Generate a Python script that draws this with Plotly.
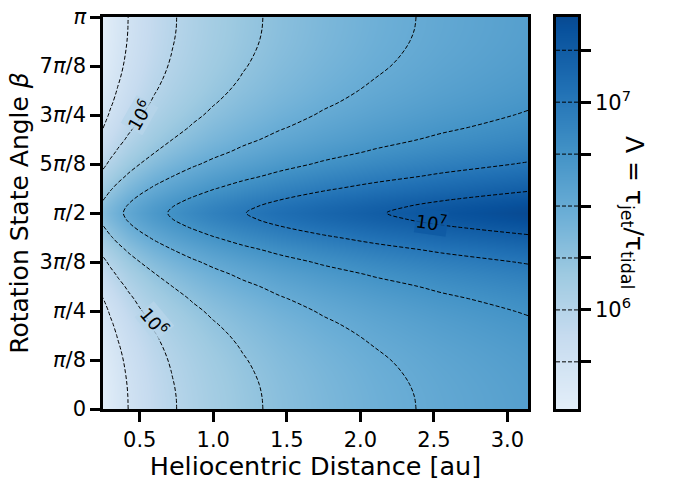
import numpy as np
import plotly.graph_objects as go

# ---------------- data ----------------
# heliocentric distance grid [au]
distance_au = [0.25, 0.30, 0.35, 0.42, 0.50, 0.60, 0.72, 0.86, 1.00, 1.20, 1.45, 1.75, 2.10, 2.55, 3.14]
# rotation state angle grid, in units of pi
beta_over_pi = [0.0, 0.03125, 0.0625, 0.09375, 0.125, 0.15625, 0.1875, 0.21875, 0.25, 0.28125,
                0.3125, 0.34375, 0.375, 0.40625, 0.4375, 0.46875, 0.484375, 0.5, 0.515625,
                0.53125, 0.5625, 0.59375, 0.625, 0.65625, 0.6875, 0.71875, 0.75, 0.78125,
                0.8125, 0.84375, 0.875, 0.90625, 0.9375, 0.96875, 1.0]
# log10 of Lambda = tau_jet / tau_tidal  (rows: beta, columns: distance)
log10_lambda = [
    [5.523, 5.603, 5.670, 5.749, 5.824, 5.904, 5.983, 6.060, 6.126, 6.205, 6.287, 6.369, 6.448, 6.532, 6.622],
    [5.526, 5.605, 5.672, 5.751, 5.827, 5.906, 5.985, 6.062, 6.128, 6.207, 6.289, 6.371, 6.450, 6.534, 6.624],
    [5.533, 5.612, 5.679, 5.758, 5.833, 5.913, 5.992, 6.069, 6.134, 6.213, 6.295, 6.377, 6.456, 6.540, 6.630],
    [5.545, 5.624, 5.691, 5.770, 5.845, 5.924, 6.003, 6.080, 6.145, 6.224, 6.306, 6.387, 6.466, 6.550, 6.640],
    [5.563, 5.641, 5.708, 5.786, 5.862, 5.940, 6.019, 6.095, 6.160, 6.239, 6.321, 6.402, 6.480, 6.564, 6.654],
    [5.586, 5.664, 5.730, 5.809, 5.883, 5.962, 6.040, 6.116, 6.181, 6.259, 6.341, 6.421, 6.500, 6.583, 6.673],
    [5.615, 5.693, 5.759, 5.837, 5.911, 5.989, 6.067, 6.143, 6.207, 6.285, 6.366, 6.447, 6.525, 6.608, 6.697],
    [5.650, 5.728, 5.794, 5.871, 5.945, 6.023, 6.100, 6.176, 6.240, 6.318, 6.398, 6.478, 6.556, 6.638, 6.727],
    [5.694, 5.771, 5.836, 5.913, 5.987, 6.064, 6.141, 6.216, 6.280, 6.357, 6.437, 6.517, 6.594, 6.676, 6.764],
    [5.745, 5.822, 5.887, 5.963, 6.037, 6.114, 6.190, 6.265, 6.329, 6.405, 6.485, 6.564, 6.641, 6.722, 6.810],
    [5.806, 5.882, 5.947, 6.023, 6.096, 6.173, 6.249, 6.324, 6.387, 6.463, 6.542, 6.621, 6.697, 6.778, 6.865],
    [5.877, 5.953, 6.018, 6.094, 6.167, 6.243, 6.319, 6.393, 6.456, 6.532, 6.611, 6.690, 6.766, 6.846, 6.933],
    [5.959, 6.036, 6.100, 6.176, 6.249, 6.325, 6.401, 6.476, 6.538, 6.614, 6.693, 6.772, 6.847, 6.928, 7.014],
    [6.053, 6.129, 6.194, 6.271, 6.344, 6.420, 6.497, 6.571, 6.634, 6.710, 6.789, 6.868, 6.944, 7.025, 7.111],
    [6.154, 6.231, 6.297, 6.374, 6.448, 6.525, 6.602, 6.677, 6.741, 6.818, 6.897, 6.977, 7.053, 7.135, 7.223],
    [6.252, 6.330, 6.396, 6.475, 6.550, 6.628, 6.706, 6.782, 6.847, 6.925, 7.006, 7.087, 7.165, 7.248, 7.337],
    [6.290, 6.369, 6.436, 6.515, 6.590, 6.669, 6.748, 6.825, 6.890, 6.969, 7.050, 7.132, 7.210, 7.295, 7.384],
    [6.311, 6.390, 6.457, 6.536, 6.612, 6.691, 6.770, 6.848, 6.913, 6.992, 7.074, 7.156, 7.235, 7.320, 7.410],
    [6.290, 6.369, 6.436, 6.515, 6.590, 6.669, 6.748, 6.825, 6.890, 6.969, 7.050, 7.132, 7.210, 7.295, 7.384],
    [6.252, 6.330, 6.396, 6.475, 6.550, 6.628, 6.706, 6.782, 6.847, 6.925, 7.006, 7.087, 7.165, 7.248, 7.337],
    [6.154, 6.231, 6.297, 6.374, 6.448, 6.525, 6.602, 6.677, 6.741, 6.818, 6.897, 6.977, 7.053, 7.135, 7.223],
    [6.053, 6.129, 6.194, 6.271, 6.344, 6.420, 6.497, 6.571, 6.634, 6.710, 6.789, 6.868, 6.944, 7.025, 7.111],
    [5.959, 6.036, 6.100, 6.176, 6.249, 6.325, 6.401, 6.476, 6.538, 6.614, 6.693, 6.772, 6.847, 6.928, 7.014],
    [5.877, 5.953, 6.018, 6.094, 6.167, 6.243, 6.319, 6.393, 6.456, 6.532, 6.611, 6.690, 6.766, 6.846, 6.933],
    [5.806, 5.882, 5.947, 6.023, 6.096, 6.173, 6.249, 6.324, 6.387, 6.463, 6.542, 6.621, 6.697, 6.778, 6.865],
    [5.745, 5.822, 5.887, 5.963, 6.037, 6.114, 6.190, 6.265, 6.329, 6.405, 6.485, 6.564, 6.641, 6.722, 6.810],
    [5.694, 5.771, 5.836, 5.913, 5.987, 6.064, 6.141, 6.216, 6.280, 6.357, 6.437, 6.517, 6.594, 6.676, 6.764],
    [5.650, 5.728, 5.794, 5.871, 5.945, 6.023, 6.100, 6.176, 6.240, 6.318, 6.398, 6.478, 6.556, 6.638, 6.727],
    [5.615, 5.693, 5.759, 5.837, 5.911, 5.989, 6.067, 6.143, 6.207, 6.285, 6.366, 6.447, 6.525, 6.608, 6.697],
    [5.586, 5.664, 5.730, 5.809, 5.883, 5.962, 6.040, 6.116, 6.181, 6.259, 6.341, 6.421, 6.500, 6.583, 6.673],
    [5.563, 5.641, 5.708, 5.786, 5.862, 5.940, 6.019, 6.095, 6.160, 6.239, 6.321, 6.402, 6.480, 6.564, 6.654],
    [5.545, 5.624, 5.691, 5.770, 5.845, 5.924, 6.003, 6.080, 6.145, 6.224, 6.306, 6.387, 6.466, 6.550, 6.640],
    [5.533, 5.612, 5.679, 5.758, 5.833, 5.913, 5.992, 6.069, 6.134, 6.213, 6.295, 6.377, 6.456, 6.540, 6.630],
    [5.526, 5.605, 5.672, 5.751, 5.827, 5.906, 5.985, 6.062, 6.128, 6.207, 6.289, 6.371, 6.450, 6.534, 6.624],
    [5.523, 5.603, 5.670, 5.749, 5.824, 5.904, 5.983, 6.060, 6.126, 6.205, 6.287, 6.369, 6.448, 6.532, 6.622],
]
# contour levels (log10 Lambda) and colorbar labels
contour_levels = [5.75, 6.0, 6.25, 6.5, 6.75, 7.0, 7.25]
colorbar_major = [6.0, 7.0]
colorbar_major_text = ["10<sup>6</sup>", "10<sup>7</sup>"]
colorbar_minor = [5.75, 6.25, 6.5, 6.75, 7.25]
x_tickvals = [0.5, 1.0, 1.5, 2.0, 2.5, 3.0]
y_tick_over_pi = [0, 0.125, 0.25, 0.375, 0.5, 0.625, 0.75, 0.875, 1.0]
y_ticktext = ["0", "<i>π</i>/8", "<i>π</i>/4", "3<i>π</i>/8", "<i>π</i>/2",
              "5<i>π</i>/8", "3<i>π</i>/4", "7<i>π</i>/8", "<i>π</i>"]
# inline contour labels: (distance, beta/pi, text, angle)
contour_label_pos = [(0.499, 0.7498, "10<sup>6</sup>", -60),
                     (0.597, 0.224, "10<sup>6</sup>", 50),
                     (2.482, 0.4783, "10<sup>7</sup>", 8)]

# ---------------- figure ----------------
beta_rad = [b * np.pi for b in beta_over_pi]
zmin = min(min(row) for row in log10_lambda)
zmax = max(max(row) for row in log10_lambda)

blues = [[0, 'rgb(227,238,249)'], [0.03125, 'rgb(222,235,247)'], [0.1875, 'rgb(198,219,239)'],
         [0.34375, 'rgb(158,202,225)'], [0.5, 'rgb(107,174,214)'], [0.65625, 'rgb(66,146,198)'],
         [0.8125, 'rgb(33,113,181)'], [0.96875, 'rgb(8,81,156)'], [1, 'rgb(8,74,146)']]
label_bg = ['rgba(183,213,234,0.8)', 'rgba(183,213,234,0.8)', 'rgba(14,89,162,0.8)']

FONT = "DejaVu Sans"
DASH = '4px,2px'
fig = go.Figure()
fig.add_trace(go.Heatmap(x=distance_au, y=beta_rad, z=log10_lambda, zsmooth='best', colorscale=blues,
                         zmin=zmin, zmax=zmax, showscale=False, hoverinfo='skip'))
fig.add_trace(go.Contour(x=distance_au, y=beta_rad, z=log10_lambda, showscale=False, hoverinfo='skip',
                         contours=dict(start=contour_levels[0], end=contour_levels[-1], size=0.25,
                                       coloring='none', showlabels=False),
                         line=dict(color='black', width=1, dash=DASH, smoothing=1.0)))

# colour bar drawn on its own small axis pair
cb_vals = [zmin] + contour_levels + [zmax]
fig.add_trace(go.Heatmap(x=[0, 1], y=cb_vals, z=[[v, v] for v in cb_vals], zsmooth='best',
                         colorscale=blues, zmin=zmin, zmax=zmax, showscale=False,
                         hoverinfo='skip', xaxis='x2', yaxis='y2'))
lx, ly = [], []
for lv in contour_levels:
    lx += [0, 1, None]
    ly += [lv, lv, None]
fig.add_trace(go.Scatter(x=lx, y=ly, mode='lines', xaxis='x2', yaxis='y2', hoverinfo='skip',
                         line=dict(color='black', width=1, dash=DASH), showlegend=False))

axis_common = dict(ticks='outside', ticklen=10, tickwidth=2.5, tickcolor='black',
                   showline=True, linewidth=2.5, linecolor='black', mirror=True,
                   showgrid=False, zeroline=False, ticklabeloverflow='allow',
                   tickfont=dict(family=FONT, size=21, color='black'))

fig.update_layout(
    width=673, height=481,
    margin=dict(l=103, r=95, t=5, b=69),
    paper_bgcolor='white', plot_bgcolor='white',
    showlegend=False,
    font=dict(family=FONT, color='black'),
    xaxis=dict(domain=[0, 0.8947], range=[0.25, 3.14], tickvals=x_tickvals,
               ticktext=["%.1f" % v for v in x_tickvals],
               title=dict(text="Heliocentric Distance [au]", font=dict(family=FONT, size=25.5), standoff=6),
               **axis_common),
    yaxis=dict(domain=[0, 1], range=[0, np.pi], tickvals=[v * np.pi for v in y_tick_over_pi],
               ticktext=y_ticktext,
               title=dict(text="Rotation State Angle <i>β</i>", font=dict(family=FONT, size=25), standoff=4),
               **axis_common),
    xaxis2=dict(domain=[0.9537, 1.0], range=[0, 1], anchor='y2', showticklabels=False, ticks='',
                showline=True, linewidth=2.5, linecolor='black', mirror=True, showgrid=False, zeroline=False),
    yaxis2=dict(domain=[0, 1], range=[zmin, zmax], anchor='x2', side='right', tickvals=colorbar_major,
                ticktext=colorbar_major_text,
                minor=dict(tickvals=colorbar_minor, ticks='outside', ticklen=10, tickwidth=2.5,
                           tickcolor='black', showgrid=False),
                **axis_common),
)

fig.add_annotation(xref='paper', yref='paper', x=1.116, y=0.5025, xanchor='center', yanchor='middle',
                   text="Λ = τ<sub>jet</sub>/τ<sub>tidal</sub>", textangle=90, showarrow=False,
                   font=dict(family=FONT, size=25, color='black'))

for (x, b, t, ang), bg in zip(contour_label_pos, label_bg):
    fig.add_annotation(x=x, y=b * np.pi, xref='x', yref='y', text=t, textangle=ang, showarrow=False,
                       bgcolor=bg, borderpad=0,
                       font=dict(family=FONT, size=18, color='black'))

fig.write_html("out.html")
